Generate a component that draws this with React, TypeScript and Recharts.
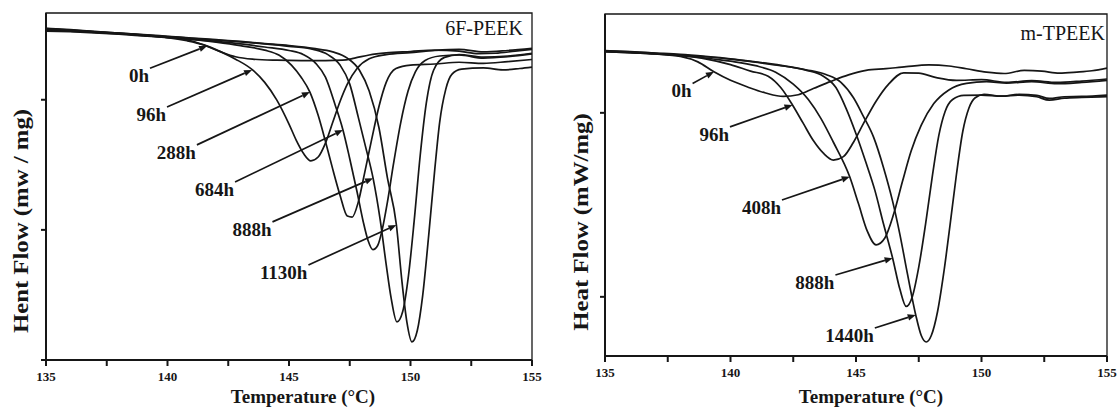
import { LineChart, Line, XAxis, YAxis, ReferenceLine, ReferenceArea } from 'recharts';

type Pt = [number, number];

const INK = '#161616';
const SERIF = "'Liberation Serif', 'Times New Roman', serif";

const tempTicks = [135, 137.5, 140, 142.5, 145, 147.5, 150, 152.5, 155];
const peekYTicks = [0, 37.5, 75];
const tpeekYTicks = [17.3, 71.1];

// 6F-PEEK, [temperature, heat flow (arbitrary, 0-100 of the frame)]
const peek0h: Pt[] = [[135, 95.0], [136, 94.8], [137, 94.4], [138, 94.0], [139, 93.6], [140, 93.1], [140.8, 92.3], [141.6, 90.5], [142.2, 88.8], [142.8, 87.4], [143.5, 86.7], [144.5, 86.4], [145.5, 86.3], [146.5, 86.3], [147.2, 86.4], [147.7, 87.0], [148.3, 87.9], [149, 88.5], [150, 88.9], [151, 89.3], [152, 89.0], [152.8, 88.3], [153.5, 88.4], [154.3, 89.0], [155, 89.5]];
const peek96h: Pt[] = [[135, 95.5], [136, 95.1], [137, 94.6], [138, 94.1], [139, 93.5], [140, 92.9], [140.8, 92.0], [141.5, 90.8], [142.2, 88.8], [142.8, 86.7], [143.5, 83.6], [144.0, 80.0], [144.5, 74.9], [145.0, 68.0], [145.3, 63.3], [145.6, 59.5], [145.9, 57.4], [146.2, 58.5], [146.5, 62.5], [146.8, 68.5], [147.1, 74.5], [147.4, 79.5], [147.8, 84.0], [148.3, 86.8], [149, 88.0], [150, 88.6], [151, 89.2], [152, 89.5], [153, 88.8], [154, 89.2], [155, 89.8]];
const peek288h: Pt[] = [[135, 95.2], [136, 94.9], [137, 94.5], [138, 94.1], [139, 93.6], [140, 93.0], [141, 92.4], [142, 91.6], [143, 90.6], [144, 89.3], [144.6, 87.8], [145.1, 85.0], [145.5, 81.5], [145.86, 77.2], [146.2, 70.5], [146.5, 63.0], [146.8, 55.0], [147.1, 47.5], [147.4, 41.5], [147.6, 41.2], [147.85, 45.5], [148.1, 53.5], [148.4, 63.5], [148.7, 73.0], [149.0, 80.0], [149.4, 84.0], [150, 85.0], [151, 85.3], [152, 85.8], [153, 85.5], [154, 86.0], [155, 86.6]];
const peek684h: Pt[] = [[135, 94.8], [136, 94.6], [137, 94.3], [138, 93.9], [139, 93.4], [140, 92.9], [141, 92.4], [142, 91.8], [143, 91.1], [144, 90.2], [145, 89.2], [145.6, 88.0], [146.1, 85.5], [146.5, 81.5], [146.9, 73.5], [147.22, 66.3], [147.5, 58.0], [147.8, 48.5], [148.05, 40.0], [148.25, 34.5], [148.45, 31.8], [148.65, 33.0], [148.85, 38.0], [149.05, 45.5], [149.3, 56.5], [149.6, 68.5], [149.9, 77.5], [150.2, 83.0], [150.6, 86.3], [151.2, 87.6], [152, 87.9], [153, 87.0], [154, 87.4], [155, 88.2]];
const peek888h: Pt[] = [[135, 95.6], [136, 95.2], [137, 94.7], [138, 94.2], [139, 93.7], [140, 93.2], [141, 92.7], [142, 92.2], [143, 91.7], [144, 91.1], [145, 90.4], [146, 89.5], [146.6, 88.0], [147.1, 85.0], [147.5, 79.5], [147.85, 70.0], [148.15, 61.5], [148.46, 52.4], [148.75, 40.5], [149.0, 27.5], [149.2, 18.0], [149.44, 11.0], [149.68, 14.0], [149.92, 24.5], [150.15, 40.0], [150.4, 59.0], [150.65, 74.0], [150.95, 83.5], [151.4, 87.2], [152, 88.0], [153, 87.3], [154, 87.6], [155, 88.4]];
const peek1130h: Pt[] = [[135, 95.4], [136, 95.0], [137, 94.6], [138, 94.2], [139, 93.8], [140, 93.3], [141, 92.8], [142, 92.3], [143, 91.8], [144, 91.2], [145, 90.6], [146, 89.8], [146.8, 88.8], [147.4, 87.0], [147.9, 83.5], [148.3, 77.5], [148.7, 67.0], [149.05, 52.5], [149.42, 38.9], [149.65, 22.5], [149.85, 11.0], [150.06, 5.2], [150.28, 8.5], [150.5, 18.5], [150.75, 36.0], [151.0, 55.0], [151.2, 68.5], [151.45, 78.0], [151.7, 82.3], [152.1, 83.8], [153, 84.2], [153.8, 83.6], [154.5, 84.0], [155, 84.4]];

// m-TPEEK
const tpeek0h: Pt[] = [[135, 89.0], [136, 88.7], [137, 88.3], [138, 87.6], [138.7, 86.0], [139.34, 83.1], [140, 80.6], [140.7, 78.6], [141.4, 76.9], [142.1, 75.9], [142.7, 76.4], [143.3, 78.2], [144.0, 80.3], [144.7, 82.2], [145.4, 83.5], [146.2, 84.0], [147.0, 84.6], [147.9, 85.1], [148.7, 84.8], [149.4, 84.0], [150.2, 83.0], [150.9, 82.6], [151.7, 83.5], [152.4, 83.3], [153.1, 82.7], [153.8, 83.0], [154.4, 83.4], [155, 84.2]];
const tpeek96h: Pt[] = [[135, 89.2], [136, 88.9], [137, 88.5], [138, 87.9], [139, 86.9], [140, 85.2], [140.8, 83.3], [141.5, 81.8], [142.0, 78.5], [142.47, 73.4], [142.9, 68.0], [143.3, 63.0], [143.7, 59.3], [144.1, 57.3], [144.5, 58.3], [144.9, 62.5], [145.3, 68.0], [145.8, 74.5], [146.3, 79.5], [146.9, 82.8], [147.5, 82.7], [148.2, 81.4], [149, 80.6], [150, 80.8], [151, 80.0], [152, 80.5], [153, 80.0], [154, 80.4], [155, 81.0]];
const tpeek408h: Pt[] = [[135, 89.0], [136, 88.7], [137, 88.3], [138, 87.8], [139, 87.1], [140, 86.2], [141, 84.9], [141.8, 83.0], [142.5, 79.5], [143.1, 75.0], [143.6, 69.5], [144.1, 62.5], [144.75, 52.4], [145.1, 44.5], [145.45, 36.5], [145.8, 32.5], [146.15, 34.5], [146.5, 41.5], [146.85, 51.0], [147.2, 60.0], [147.6, 67.5], [148.1, 73.8], [148.7, 77.8], [149.4, 79.7], [150.2, 80.2], [151, 79.8], [152, 80.2], [153, 79.6], [154, 80.0], [155, 80.6]];
const tpeek888h: Pt[] = [[135, 89.3], [136, 89.0], [137, 88.6], [138, 88.2], [139, 87.6], [140, 86.9], [141, 86.0], [142, 85.0], [143, 83.6], [143.7, 81.8], [144.2, 78.5], [144.6, 72.5], [145.0, 65.0], [145.4, 56.5], [145.75, 48.5], [146.1, 38.5], [146.46, 28.6], [146.75, 19.5], [147.0, 14.5], [147.25, 17.5], [147.5, 26.0], [147.8, 40.0], [148.05, 53.0], [148.3, 64.5], [148.55, 71.5], [148.85, 75.0], [149.3, 76.2], [150, 76.3], [150.8, 76.0], [151.5, 76.5], [152.2, 76.2], [152.7, 75.3], [153.3, 75.8], [154, 75.9], [155, 76.3]];
const tpeek1440h: Pt[] = [[135, 89.1], [136, 88.8], [137, 88.4], [138, 88.0], [139, 87.5], [140, 86.8], [141, 85.9], [142, 84.9], [143, 83.7], [143.8, 82.3], [144.4, 80.0], [144.9, 75.5], [145.3, 70.0], [145.7, 64.0], [146.1, 55.0], [146.45, 45.5], [146.75, 35.5], [147.05, 24.0], [147.38, 12.0], [147.6, 6.0], [147.8, 4.1], [148.0, 6.0], [148.25, 13.0], [148.5, 24.5], [148.75, 38.5], [149.0, 53.0], [149.25, 65.5], [149.5, 72.5], [149.75, 75.5], [150.1, 76.5], [150.8, 76.0], [151.5, 76.3], [152.2, 75.8], [152.7, 74.8], [153.3, 75.4], [154, 75.6], [155, 75.8]];

// annotation arrows: label, from (near label), to (on the curve)
const peekArrows: { label: string; from: Pt; to: Pt }[] = [
  { label: '0h', from: [139.28, 84.1], to: [141.63, 90.5] },
  { label: '96h', from: [139.98, 72.9], to: [143.48, 83.6] },
  { label: '288h', from: [141.21, 62.0], to: [145.86, 77.2] },
  { label: '684h', from: [142.78, 51.3], to: [147.22, 66.3] },
  { label: '888h', from: [144.32, 39.8], to: [148.46, 52.4] },
  { label: '1130h', from: [145.8, 27.4], to: [149.42, 38.9] },
];
const tpeekArrows: { label: string; from: Pt; to: Pt }[] = [
  { label: '0h', from: [138.49, 79.7], to: [139.34, 83.1] },
  { label: '96h', from: [139.98, 67.0], to: [142.47, 73.4] },
  { label: '408h', from: [142.05, 45.6], to: [144.75, 52.4] },
  { label: '888h', from: [144.18, 23.7], to: [146.46, 28.6] },
  { label: '1440h', from: [145.75, 8.2], to: [147.38, 12.0] },
];

const fmtTemp = (v: number) => (v % 5 === 0 ? String(v) : '');
const noLabel = () => '';

function arrowShape(label: string) {
  return (p: any) => {
    const { x1, y1, x2, y2 } = p;
    if (x1 == null || x2 == null) return <g />;
    const a = Math.atan2(y2 - y1, x2 - x1);
    const hl = 8;
    const hw = 3.2;
    const bx = x2 - hl * Math.cos(a);
    const by = y2 - hl * Math.sin(a);
    const nx = -Math.sin(a) * hw;
    const ny = Math.cos(a) * hw;
    return (
      <g>
        <line x1={x1} y1={y1} x2={bx} y2={by} stroke={INK} strokeWidth={1.7} />
        <polygon points={`${x2},${y2} ${bx + nx},${by + ny} ${bx - nx},${by - ny}`} fill={INK} />
        <text x={x1 - 1} y={y1 + 14} textAnchor="end" fontFamily={SERIF} fontWeight={700} fontSize={19} fill={INK}>
          {label}
        </text>
      </g>
    );
  };
}

interface PanelProps {
  width: number;
  top: number;
  bottom: number;
  right: number;
  axisW: number;
  title: string;
  titleInset: Pt;
  yLabel: string;
  yLabelAt: Pt;
  xLabelX: number;
  yTicks: number[];
  curves: Pt[][];
  arrows: { label: string; from: Pt; to: Pt }[];
}

function DscPanel(props: PanelProps) {
  const { width, top, bottom, right, axisW, title, titleInset, yLabel, yLabelAt, xLabelX, yTicks, curves, arrows } = props;
  return (
    <LineChart width={width} height={409} margin={{ top, right, bottom, left: 0 }}>
      <ReferenceArea
        x1={135}
        x2={155}
        y1={0}
        y2={100}
        fill="none"
        fillOpacity={0}
        stroke={INK}
        strokeWidth={1.3}
        label={{
          content: (lp: any) => {
            const vb = lp.viewBox;
            return (
              <text x={vb.x + vb.width - titleInset[0]} y={vb.y + titleInset[1]} textAnchor="end" fontFamily={SERIF} fontSize={20} fill={INK}>
                {title}
              </text>
            );
          },
        }}
      />
      <XAxis
        type="number"
        dataKey="t"
        domain={[135, 155]}
        ticks={tempTicks}
        interval={0}
        tickFormatter={fmtTemp}
        height={30}
        tickSize={6}
        tickMargin={6}
        stroke={INK}
        strokeWidth={2}
        allowDataOverflow
        tick={{ fill: INK, fontSize: 13, fontWeight: 700, fontFamily: SERIF }}
        label={{
          content: () => (
            <text x={xLabelX} y={403} textAnchor="middle" fontFamily={SERIF} fontWeight={700} fontSize={19} fill={INK}>
              Temperature (°C)
            </text>
          ),
        }}
      />
      <YAxis
        type="number"
        domain={[0, 100]}
        ticks={yTicks}
        tickFormatter={noLabel}
        width={axisW}
        tickSize={5}
        tickMargin={2}
        stroke={INK}
        strokeWidth={2}
        allowDataOverflow
        label={{
          content: () => (
            <text
              transform={`translate(${yLabelAt[0]},${yLabelAt[1]}) rotate(-90) scale(1.18,1)`}
              textAnchor="middle"
              fontFamily={SERIF}
              fontWeight={700}
              fontSize={21}
              fill={INK}
            >
              {yLabel}
            </text>
          ),
        }}
      />
      {curves.map((c, i) => (
        <Line
          key={i}
          data={c.map(([t, v]) => ({ t, v }))}
          dataKey="v"
          type="monotone"
          dot={false}
          stroke={INK}
          strokeWidth={1.7}
          isAnimationActive={false}
        />
      ))}
      {arrows.map((a) => (
        <ReferenceLine
          key={a.label}
          segment={[{ x: a.from[0], y: a.from[1] }, { x: a.to[0], y: a.to[1] }]}
          shape={arrowShape(a.label)}
        />
      ))}
    </LineChart>
  );
}

export default function App() {
  return (
    <div style={{ position: 'absolute', left: 0, top: 0, width: 1117, height: 409, background: '#fff' }}>
      <div style={{ position: 'absolute', left: 0, top: 0 }}>
        <DscPanel
          width={560}
          top={13}
          bottom={19}
          right={28}
          axisW={46}
          title="6F-PEEK"
          titleInset={[9, 22]}
          yLabel="Hent Flow (mw / mg)"
          yLabelAt={[28, 221]}
          xLabelX={303}
          yTicks={peekYTicks}
          curves={[peek0h, peek96h, peek288h, peek684h, peek888h, peek1130h]}
          arrows={peekArrows}
        />
      </div>
      <div style={{ position: 'absolute', left: 560, top: 0 }}>
        <DscPanel
          width={557}
          top={14}
          bottom={23}
          right={10}
          axisW={45}
          title="m-TPEEK"
          titleInset={[2, 26]}
          yLabel="Heat Flow (mW/mg)"
          yLabelAt={[28, 222]}
          xLabelX={311}
          yTicks={tpeekYTicks}
          curves={[tpeek0h, tpeek96h, tpeek408h, tpeek888h, tpeek1440h]}
          arrows={tpeekArrows}
        />
      </div>
    </div>
  );
}
